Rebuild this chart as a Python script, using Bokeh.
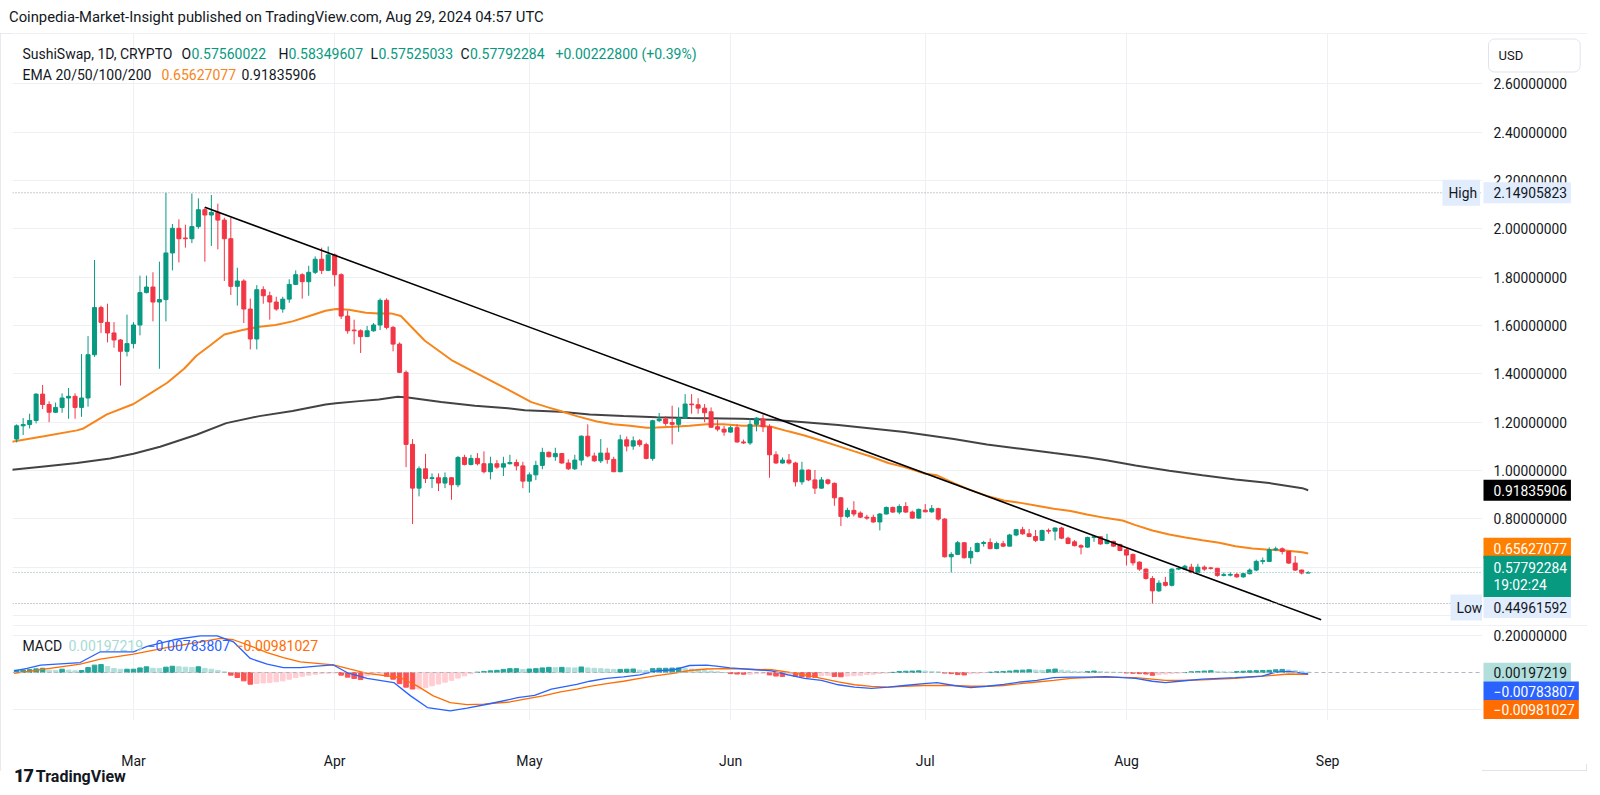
import numpy as np
import pandas as pd
from bokeh.plotting import figure
from bokeh.models import (Range1d, FixedTicker, Label, Div, Span,
                          MonthsTicker, DatetimeTickFormatter, ColumnDataSource)
from bokeh.layouts import column, row
from bokeh.core.properties import value
from bokeh.embed import file_html
from bokeh.resources import INLINE

FIRST_DAY = "2024-02-12"
REF_DAY = "2024-03-01"

opens = [1.130, 1.185, 1.190, 1.207, 1.316, 1.273, 1.241, 1.261, 1.300, 1.307,
         1.261, 1.300, 1.479, 1.674, 1.613, 1.569, 1.540, 1.493, 1.525, 1.602,
         1.736, 1.759, 1.697, 1.707, 1.900, 2.002, 1.962, 1.959, 2.009, 2.079,
         2.057, 2.068, 2.036, 1.959, 1.762, 1.784, 1.668, 1.544, 1.748, 1.723,
         1.697, 1.668, 1.709, 1.770, 1.810, 1.781, 1.820, 1.874, 1.828, 1.892,
         1.810, 1.639, 1.581, 1.578, 1.554, 1.578, 1.602, 1.704, 1.592, 1.523,
         1.406, 1.108, 0.927, 1.007, 0.967, 0.970, 0.948, 0.970, 0.941, 1.054,
         1.025, 1.050, 1.028, 0.995, 1.028, 1.014, 1.028, 1.033, 1.019, 0.956,
         0.982, 1.021, 1.075, 1.057, 1.070, 1.031, 1.007, 1.043, 1.142, 1.060,
         1.040, 1.072, 1.046, 0.995, 1.127, 1.101, 1.123, 1.107, 1.050, 1.206,
         1.213, 1.198, 1.191, 1.217, 1.275, 1.272, 1.258, 1.243, 1.181, 1.171,
         1.159, 1.177, 1.118, 1.114, 1.191, 1.213, 1.181, 1.065, 1.031, 1.043,
         1.031, 0.953, 1.002, 0.961, 0.927, 0.961, 0.947, 0.887, 0.810, 0.835,
         0.824, 0.807, 0.806, 0.787, 0.820, 0.847, 0.828, 0.851, 0.828, 0.803,
         0.836, 0.829, 0.842, 0.799, 0.643, 0.653, 0.701, 0.639, 0.665, 0.698,
         0.702, 0.677, 0.697, 0.687, 0.733, 0.755, 0.738, 0.727, 0.711, 0.752,
         0.749, 0.762, 0.720, 0.705, 0.689, 0.683, 0.723, 0.726, 0.698, 0.707,
         0.694, 0.672, 0.653, 0.621, 0.592, 0.553, 0.502, 0.537, 0.525, 0.592,
         0.592, 0.600, 0.578, 0.600, 0.597, 0.595, 0.566, 0.567, 0.570, 0.560,
         0.573, 0.588, 0.624, 0.624, 0.672, 0.676, 0.665, 0.617, 0.588, 0.57560022]

highs = [1.191, 1.217, 1.235, 1.319, 1.354, 1.286, 1.281, 1.319, 1.341, 1.319,
         1.482, 1.556, 1.871, 1.682, 1.690, 1.614, 1.544, 1.645, 1.614, 1.806,
         1.806, 1.820, 1.864, 2.14905823, 2.020, 2.039, 2.017, 2.146, 2.126, 2.089,
         2.140, 2.104, 2.046, 2.046, 1.839, 1.791, 1.711, 1.767, 1.762, 1.740,
         1.719, 1.719, 1.791, 1.828, 1.816, 1.847, 1.886, 1.922, 1.927, 1.898,
         1.816, 1.661, 1.624, 1.584, 1.598, 1.610, 1.712, 1.712, 1.598, 1.530,
         1.414, 1.130, 1.017, 1.069, 0.988, 0.988, 0.992, 0.973, 1.060, 1.065,
         1.065, 1.072, 1.079, 1.057, 1.043, 1.057, 1.065, 1.046, 1.036, 0.992,
         1.040, 1.094, 1.079, 1.094, 1.072, 1.046, 1.065, 1.145, 1.191, 1.074,
         1.130, 1.094, 1.057, 1.148, 1.141, 1.141, 1.130, 1.115, 1.210, 1.238,
         1.225, 1.268, 1.261, 1.316, 1.316, 1.299, 1.275, 1.261, 1.210, 1.185,
         1.185, 1.191, 1.128, 1.217, 1.220, 1.232, 1.191, 1.079, 1.054, 1.068,
         1.036, 1.036, 1.004, 1.002, 0.973, 0.966, 0.950, 0.890, 0.846, 0.873,
         0.831, 0.817, 0.817, 0.824, 0.851, 0.851, 0.860, 0.869, 0.834, 0.843,
         0.861, 0.857, 0.846, 0.803, 0.662, 0.709, 0.704, 0.683, 0.702, 0.709,
         0.719, 0.706, 0.709, 0.738, 0.758, 0.767, 0.758, 0.754, 0.755, 0.760,
         0.764, 0.767, 0.726, 0.712, 0.695, 0.726, 0.729, 0.729, 0.738, 0.709,
         0.697, 0.682, 0.656, 0.624, 0.595, 0.563, 0.546, 0.560, 0.595, 0.598,
         0.610, 0.614, 0.614, 0.607, 0.601, 0.598, 0.578, 0.580, 0.576, 0.576,
         0.595, 0.631, 0.640, 0.682, 0.685, 0.682, 0.667, 0.646, 0.590, 0.58349607]

lows = [1.116, 1.147, 1.174, 1.195, 1.254, 1.200, 1.238, 1.239, 1.214, 1.214,
        1.222, 1.264, 1.470, 1.569, 1.530, 1.508, 1.351, 1.472, 1.505, 1.559,
        1.733, 1.617, 1.421, 1.617, 1.828, 1.861, 1.922, 1.941, 2.000, 1.864,
        1.929, 1.915, 1.784, 1.726, 1.682, 1.610, 1.501, 1.501, 1.690, 1.624,
        1.661, 1.653, 1.694, 1.767, 1.711, 1.723, 1.813, 1.813, 1.825, 1.762,
        1.627, 1.566, 1.522, 1.486, 1.552, 1.574, 1.581, 1.584, 1.493, 1.403,
        1.014, 0.778, 0.893, 0.948, 0.927, 0.915, 0.927, 0.879, 0.931, 1.021,
        1.021, 1.021, 0.988, 0.963, 1.007, 0.977, 1.025, 1.000, 0.927, 0.908,
        0.960, 1.005, 1.054, 1.040, 1.028, 1.002, 1.002, 1.021, 1.054, 1.036,
        1.031, 1.028, 0.993, 0.993, 1.079, 1.086, 1.098, 1.046, 1.040, 1.201,
        1.185, 1.108, 1.160, 1.214, 1.235, 1.235, 1.200, 1.176, 1.162, 1.144,
        1.156, 1.115, 1.110, 1.106, 1.162, 1.159, 0.970, 1.028, 1.028, 1.025,
        0.934, 0.941, 0.956, 0.903, 0.924, 0.941, 0.854, 0.770, 0.803, 0.810,
        0.803, 0.796, 0.784, 0.752, 0.818, 0.825, 0.819, 0.825, 0.800, 0.800,
        0.827, 0.825, 0.793, 0.640, 0.578, 0.650, 0.636, 0.614, 0.661, 0.685,
        0.674, 0.674, 0.683, 0.686, 0.728, 0.734, 0.724, 0.704, 0.708, 0.738,
        0.711, 0.716, 0.695, 0.686, 0.653, 0.680, 0.705, 0.693, 0.694, 0.684,
        0.666, 0.607, 0.607, 0.585, 0.549, 0.44961592, 0.498, 0.520, 0.520, 0.588,
        0.588, 0.575, 0.575, 0.585, 0.590, 0.560, 0.562, 0.562, 0.556, 0.556,
        0.570, 0.583, 0.612, 0.621, 0.666, 0.653, 0.614, 0.585, 0.570, 0.57525033]

closes = [1.185, 1.190, 1.207, 1.316, 1.273, 1.241, 1.261, 1.300, 1.307, 1.261,
          1.300, 1.479, 1.674, 1.613, 1.569, 1.540, 1.493, 1.525, 1.602, 1.736,
          1.759, 1.697, 1.707, 1.900, 2.002, 1.959, 1.959, 2.009, 2.079, 2.057,
          2.068, 2.036, 1.959, 1.762, 1.784, 1.668, 1.544, 1.748, 1.723, 1.697,
          1.668, 1.709, 1.770, 1.810, 1.781, 1.820, 1.874, 1.828, 1.892, 1.810,
          1.639, 1.578, 1.578, 1.554, 1.578, 1.602, 1.704, 1.592, 1.523, 1.406,
          1.108, 0.927, 1.007, 0.967, 0.970, 0.948, 0.970, 0.941, 1.054, 1.025,
          1.050, 1.028, 0.995, 1.028, 1.014, 1.028, 1.033, 1.019, 0.956, 0.982,
          1.021, 1.075, 1.057, 1.070, 1.031, 1.007, 1.043, 1.142, 1.060, 1.040,
          1.072, 1.046, 0.995, 1.127, 1.101, 1.123, 1.107, 1.050, 1.206, 1.213,
          1.195, 1.191, 1.217, 1.275, 1.272, 1.258, 1.239, 1.179, 1.171, 1.159,
          1.177, 1.118, 1.114, 1.191, 1.217, 1.181, 1.065, 1.031, 1.043, 1.031,
          0.953, 1.002, 0.961, 0.927, 0.961, 0.947, 0.887, 0.810, 0.835, 0.820,
          0.807, 0.803, 0.787, 0.820, 0.847, 0.828, 0.851, 0.828, 0.803, 0.839,
          0.829, 0.842, 0.799, 0.643, 0.653, 0.701, 0.639, 0.665, 0.698, 0.702,
          0.677, 0.698, 0.687, 0.733, 0.755, 0.738, 0.727, 0.711, 0.752, 0.749,
          0.762, 0.720, 0.698, 0.689, 0.683, 0.723, 0.726, 0.696, 0.711, 0.687,
          0.669, 0.650, 0.618, 0.592, 0.553, 0.502, 0.534, 0.525, 0.592, 0.595,
          0.604, 0.578, 0.600, 0.592, 0.595, 0.566, 0.569, 0.570, 0.560, 0.573,
          0.588, 0.624, 0.627, 0.672, 0.676, 0.665, 0.617, 0.588, 0.57560022, 0.57792284]

macd_hist = [0.013, 0.014, 0.016, 0.020, 0.023, 0.013, 0.011, 0.018, 0.013, 0.009,
             0.011, 0.027, 0.040, 0.043, 0.032, 0.022, 0.018, 0.018, 0.018, 0.025,
             0.031, 0.023, 0.022, 0.029, 0.034, 0.031, 0.029, 0.027, 0.031, 0.022,
             0.018, 0.011, 0.004, -0.014, -0.027, -0.045, -0.063, -0.059, -0.056, -0.054,
             -0.050, -0.045, -0.036, -0.027, -0.020, -0.014, -0.009, -0.005, -0.004, -0.002,
             -0.014, -0.025, -0.032, -0.038, -0.018, -0.012, -0.010, -0.020, -0.036, -0.060,
             -0.079, -0.089, -0.089, -0.082, -0.072, -0.062, -0.052, -0.042, -0.030, -0.018,
             -0.006, 0.002, 0.006, 0.009, 0.012, 0.017, 0.021, 0.021, 0.016, 0.019,
             0.021, 0.025, 0.028, 0.026, 0.028, 0.026, 0.025, 0.030, 0.025, 0.023,
             0.021, 0.019, 0.017, 0.017, 0.018, 0.019, 0.013, 0.011, 0.021, 0.023,
             0.023, 0.024, 0.025, 0.021, 0.019, 0.017, 0.011, 0.008, 0.004, 0.000,
             -0.006, -0.008, -0.009, -0.009, -0.006, -0.004, -0.013, -0.019, -0.021, -0.017,
             -0.021, -0.023, -0.025, -0.026, -0.017, -0.015, -0.021, -0.023, -0.019, -0.017,
             -0.015, -0.011, -0.009, -0.005, -0.003, 0.001, 0.006, 0.007, 0.008, 0.009,
             0.008, 0.006, 0.004, -0.003, -0.006, -0.011, -0.013, -0.006, -0.004, -0.001,
             0.002, 0.004, 0.006, 0.008, 0.012, 0.013, 0.015, 0.013, 0.012, 0.015,
             0.019, 0.013, 0.009, 0.006, 0.004, 0.005, 0.008, 0.006, 0.003, 0.002,
             0.001, -0.002, -0.004, -0.006, -0.008, -0.015, -0.011, -0.008, -0.005, -0.003,
             0.000, 0.004, 0.006, 0.008, 0.010, 0.006, 0.004, 0.003, 0.005, 0.007,
             0.009, 0.010, 0.011, 0.012, 0.015, 0.017, 0.014, 0.011, 0.007, 0.00197219]

# line series read at sample points: days relative to 2024-03-01
ema_fast_day = [-19, -13.8, -8.7, -7.7, -4.1, 0, 2.6, 5.2, 7.8, 9.7,
                11.7, 14, 16.8, 19.4, 21.9, 24.5, 27.1, 29.6, 31.2, 33.2,
                35.8, 37.8, 39.7, 41.2, 42.8, 44.9, 49, 52.6, 55.2, 58.8,
                61.3, 63.9, 65.8, 68.3, 71.4, 73.9, 76.5, 79.1, 80.6, 83.2,
                85.7, 88.3, 90.9, 93.8, 96.3, 98.3, 100.9, 103.4, 106, 108.6,
                111.1, 113.7, 116.3, 118.8, 121.8, 123.8, 126.4, 129, 131.5, 134.1,
                136.7, 139.2, 141.8, 144.4, 146.9, 149.9, 152.4, 154.4, 157, 159.6,
                162.1, 164.7, 167.3, 169.8, 172.4, 175, 177.5, 180.1, 181]
ema_fast_val = [1.118, 1.142, 1.166, 1.174, 1.232, 1.275, 1.319, 1.363, 1.421, 1.475,
                1.515, 1.563, 1.581, 1.595, 1.602, 1.617, 1.639, 1.661, 1.668, 1.665,
                1.653, 1.650, 1.650, 1.639, 1.595, 1.537, 1.457, 1.406, 1.370, 1.319,
                1.283, 1.261, 1.246, 1.225, 1.203, 1.191, 1.185, 1.177, 1.178, 1.181,
                1.185, 1.191, 1.191, 1.185, 1.185, 1.181, 1.162, 1.145, 1.123, 1.101,
                1.079, 1.057, 1.031, 1.014, 0.988, 0.980, 0.948, 0.919, 0.895, 0.876,
                0.866, 0.854, 0.842, 0.832, 0.818, 0.803, 0.793, 0.774, 0.752, 0.735,
                0.723, 0.711, 0.701, 0.687, 0.677, 0.672, 0.669, 0.662, 0.65627077]

ema_slow_day = [-19, -13.8, -8.7, -3.6, 0, 4.1, 9.7, 14.3, 19.4, 24.5,
                29.6, 31.2, 34.8, 37.8, 40.7, 42.3, 47.4, 52.6, 57.7, 60.3,
                65.8, 70.3, 75.5, 80.6, 85.7, 93.8, 98.3, 103.4, 108.6, 113.7,
                118.8, 121.8, 126.4, 131.5, 136.7, 141.8, 146.9, 149.9, 154.4, 159.6,
                164.7, 169.8, 175, 180.1, 181]
ema_slow_val = [1.002, 1.017, 1.031, 1.050, 1.069, 1.098, 1.148, 1.196, 1.225, 1.246,
                1.273, 1.278, 1.287, 1.294, 1.305, 1.302, 1.283, 1.268, 1.258, 1.249,
                1.243, 1.232, 1.225, 1.220, 1.217, 1.214, 1.210, 1.200, 1.188, 1.174,
                1.159, 1.148, 1.130, 1.108, 1.090, 1.072, 1.055, 1.042, 1.021, 0.999,
                0.980, 0.963, 0.948, 0.927, 0.91835906]

macd_day = [-18.4, -16.4, -14.3, -8.2, -5.1, 0, 2.1, 6.2, 10.3, 12.9,
            15.4, 18, 20.6, 23.1, 25.7, 28.3, 30.8, 32.9, 36, 40.1,
            42.7, 45.3, 48.8, 51.4, 54.1, 56.7, 59.2, 61.8, 64.4, 68.3,
            70.3, 72.9, 75.5, 78, 80.6, 83.2, 85.7, 88.3, 89.8, 91.9,
            95.8, 98.3, 100.9, 103.4, 106, 108.6, 111.1, 113.7, 116.3, 118.8,
            121.8, 123.8, 126.4, 129, 131.5, 134.1, 136.7, 139.2, 141.8, 144.4,
            146.9, 149.9, 152.4, 154.4, 157, 159, 161.1, 164.7, 169.8, 173.9,
            176, 178, 181]
macd_val = [0.009, 0.022, 0.040, 0.054, 0.112, 0.112, 0.141, 0.177, 0.198, 0.198,
            0.166, 0.076, 0.045, 0.027, 0.027, 0.035, 0.041, 0.000, -0.032, -0.054,
            -0.126, -0.189, -0.207, -0.192, -0.174, -0.155, -0.136, -0.123, -0.089, -0.064,
            -0.047, -0.032, -0.023, -0.013, 0.009, 0.015, 0.038, 0.040, 0.035, 0.025,
            0.015, 0.009, -0.013, -0.032, -0.042, -0.066, -0.079, -0.085, -0.079, -0.070,
            -0.060, -0.055, -0.070, -0.081, -0.074, -0.064, -0.051, -0.042, -0.028, -0.025,
            -0.025, -0.022, -0.028, -0.032, -0.047, -0.055, -0.047, -0.036, -0.028, -0.019,
            0.002, 0.006, -0.00783807]

signal_day = [-18.4, -8.2, -5.1, 0, 5.1, 10.3, 13.4, 15.4, 18, 20.6,
              23.1, 25.7, 30.8, 33.4, 36, 41.1, 43.7, 46.2, 48.8, 51.4,
              54, 58, 60.5, 63.1, 65.8, 68.3, 70.3, 72.9, 75.5, 78,
              80.6, 83.2, 85.7, 88.3, 90.9, 93.5, 98.3, 100.9, 103.4, 106,
              108.6, 111.1, 113.7, 116.3, 118.8, 121.8, 126.4, 129, 131.5, 134.1,
              136.7, 139.2, 141.8, 144.4, 146.9, 149.9, 154.4, 159, 161.1, 164.7,
              169.8, 175, 178, 181]
signal_val = [-0.004, 0.045, 0.072, 0.099, 0.135, 0.166, 0.184, 0.177, 0.144, 0.108,
              0.081, 0.058, 0.041, 0.018, -0.004, -0.027, -0.072, -0.126, -0.162, -0.173,
              -0.171, -0.159, -0.142, -0.126, -0.104, -0.089, -0.075, -0.060, -0.047, -0.032,
              -0.017, -0.004, 0.011, 0.019, 0.021, 0.020, 0.015, 0.002, -0.013, -0.032,
              -0.051, -0.066, -0.075, -0.079, -0.074, -0.070, -0.070, -0.074, -0.074, -0.070,
              -0.060, -0.051, -0.042, -0.032, -0.028, -0.025, -0.028, -0.042, -0.043, -0.040,
              -0.032, -0.017, -0.008, -0.00981027]

trend_day = [11, 183]
trend_price = [2.089, 0.383]

price_ticks = [0.8, 1.0, 1.2, 1.4, 1.6, 1.8, 2.0, 2.2, 2.4, 2.6]
price_grid = [0.4, 0.6, 0.8, 1.0, 1.2, 1.4, 1.6, 1.8, 2.0, 2.2, 2.4, 2.6]
macd_ticks = [0.2]
macd_grid = [-0.2, 0.2]

HIGH, LOW, LAST = 2.14905823, 0.44961592, 0.57792284
CHANGE_TEXT = "+0.00222800 (+0.39%)"
COUNTDOWN = "19:02:24"

for a, b in [(opens, highs), (opens, lows), (opens, closes), (opens, macd_hist),
             (ema_fast_day, ema_fast_val), (ema_slow_day, ema_slow_val),
             (macd_day, macd_val), (signal_day, signal_val)]:
    assert len(a) == len(b)

# ------------------------------------------------------------------
dates = pd.date_range(FIRST_DAY, periods=len(opens), freq="D")
ref = pd.Timestamp(REF_DAY)


def at_days(days):
    return ref + pd.to_timedelta(np.asarray(days, dtype=float), unit="D")


DAY_MS = 86400000
UP, DOWN = "#089981", "#F23645"
TXT = "#131722"
FONT = "Roboto"
GRID = "#eef0f4"
BORDER = "#e0e3eb"
ORANGE_LINE = "#F7851A"
SCALE_W = 105
MAIN_H, MACD_H, AXIS_H = 592, 95, 44
SCALE_FS = "13.8px"

o = np.array(opens)
c = np.array(closes)
candle_colors = [UP if cc >= oo else DOWN for oo, cc in zip(opens, closes)]
src = ColumnDataSource(dict(x=dates, h=highs, l=lows, top=np.maximum(o, c),
                            bot=np.minimum(o, c), color=candle_colors))

x_range = Range1d(start=ref - pd.Timedelta(days=18.64), end=ref + pd.Timedelta(days=207.86))
price_range = Range1d(0.3587, 2.808)
macd_range = Range1d(-0.259, 0.254)

common = dict(x_axis_type="datetime", x_range=x_range, frame_width=1470,
              min_border_left=12, min_border_right=0, min_border_top=0,
              y_axis_location=None, output_backend="svg", toolbar_location=None,
              background_fill_color="white", border_fill_color="white")

p = figure(y_range=price_range, frame_height=MAIN_H, min_border_bottom=0,
           x_axis_location=None, **common)
p.outline_line_color = None
p.xgrid.ticker = MonthsTicker(months=list(range(1, 13)))
p.ygrid.ticker = FixedTicker(ticks=price_grid)
p.grid.grid_line_color = GRID

p.add_layout(Span(location=HIGH, dimension="width", line_color="#9598a1", line_dash="1 2", line_width=1))
p.add_layout(Span(location=LOW, dimension="width", line_color="#9598a1", line_dash="1 2", line_width=1))
p.add_layout(Span(location=LAST, dimension="width", line_color="#7fb8ad", line_dash="1 2", line_width=1))

p.line(at_days(ema_slow_day), ema_slow_val, line_color="#434343", line_width=2)
p.line(at_days(ema_fast_day), ema_fast_val, line_color=ORANGE_LINE, line_width=2)

p.segment(x0="x", y0="l", x1="x", y1="h", line_color="color", line_width=1, source=src)
p.vbar(x="x", width=0.62 * DAY_MS, top="top", bottom="bot", fill_color="color",
       line_color="color", line_width=1, source=src)

p.line(at_days(trend_day), trend_price, line_color="#000000", line_width=1.6)


def put(fig, text, x, y, color, size="14px", bg=None, pad=0, border=None, units="screen", **kw):
    fig.add_layout(Label(x=x, y=y, x_units=units, y_units="data", text=text,
                         text_color=color, text_font=FONT, text_font_size=size,
                         text_baseline="middle", text_align="left",
                         background_fill_color=bg, padding=pad,
                         border_line_color=border, **kw))


R1, R2 = 2.725, 2.638
put(p, "SushiSwap, 1D, CRYPTO", 10, R1, TXT)
for letter, lx, val, vx in [("O", 169, opens[-1], 179), ("H", 266, highs[-1], 276),
                            ("L", 358, lows[-1], 366), ("C", 448, closes[-1], 457.5)]:
    put(p, letter, lx, R1, TXT)
    put(p, f"{val:.8f}", vx, R1, UP)
put(p, CHANGE_TEXT, 543, R1, UP)
put(p, "EMA 20/50/100/200", 10, R2, TXT)
put(p, f"{ema_fast_val[-1]:.8f}", 149, R2, ORANGE_LINE)
put(p, f"{ema_slow_val[-1]:.8f}", 229, R2, TXT)

PALE = "#e1ecfd"
# tag vertical slots (price units) as laid out on the reference's scale
Y_FAST_TAG, Y_LAST_TAG, Y_LOW_TAG = 0.678, 0.5614, 0.433
put(p, "High", 1430, HIGH, TXT, size=SCALE_FS, bg=PALE, pad=(6, 3, 5, 5))
put(p, "Low", 1438, Y_LOW_TAG, TXT, size=SCALE_FS, bg=PALE, pad=(6, 2, 5, 5))

# ------------------------------------------------------------------ price scale
scale_common = dict(x_range=Range1d(0, SCALE_W), frame_width=SCALE_W, min_border_left=0,
                    min_border_right=0, min_border_top=0, x_axis_location=None,
                    y_axis_location=None, output_backend="svg", toolbar_location=None,
                    background_fill_color="white", border_fill_color="white")
ps = figure(y_range=price_range, frame_height=MAIN_H, min_border_bottom=0, **scale_common)
ps.outline_line_color = None
ps.grid.visible = False
ps.text(x=[11] * len(price_ticks), y=price_ticks, text=[f"{t:.8f}" for t in price_ticks],
        text_font=value(FONT), text_font_size=SCALE_FS, text_color=TXT,
        text_baseline="middle", text_align="left")

TAGPAD = (10, 4, 5, 5)
put(ps, "USD", 6, 2.717, TXT, size="13px", pad=(10, 57, 9, 9), border=BORDER,
    units="data", border_radius=6)
put(ps, f"{HIGH:.8f}", 1, HIGH, TXT, size=SCALE_FS, bg=PALE, pad=TAGPAD, units="data")
put(ps, f"{ema_slow_val[-1]:.8f}", 1, ema_slow_val[-1], "#ffffff", size=SCALE_FS, bg="#000000", pad=TAGPAD, units="data")
put(ps, f"{ema_fast_val[-1]:.8f}", 1, Y_FAST_TAG, "#ffffff", size=SCALE_FS, bg="#FF7F00", pad=TAGPAD, units="data")
put(ps, f"{LAST:.8f}\n{COUNTDOWN}", 1, Y_LAST_TAG, "#ffffff", size=SCALE_FS, bg=UP,
    pad=(10, 4, 4, 4), units="data", text_line_height=1.1)
put(ps, f"{LOW:.8f}", 1, Y_LOW_TAG, TXT, size=SCALE_FS, bg=PALE, pad=TAGPAD, units="data")

# ------------------------------------------------------------------ MACD pane
q = figure(y_range=macd_range, frame_height=MACD_H, min_border_bottom=AXIS_H, **common)
q.outline_line_color = None
q.xgrid.ticker = MonthsTicker(months=list(range(1, 13)))
q.ygrid.ticker = FixedTicker(ticks=macd_grid)
q.grid.grid_line_color = GRID
q.xaxis.ticker = MonthsTicker(months=list(range(1, 13)))
q.xaxis.formatter = DatetimeTickFormatter(months="%b", days="%b")
q.xaxis.axis_line_color = None
q.xaxis.major_tick_line_color = None
q.xaxis.minor_tick_line_color = None
q.xaxis.major_label_standoff = 26
q.xaxis.major_label_text_font = FONT
q.xaxis.major_label_text_font_size = "14px"
q.xaxis.major_label_text_color = TXT
q.add_layout(Span(location=macd_range.end, dimension="width", line_color=BORDER, line_width=1))

hist_colors = []
prev = 0.0
for v in macd_hist:
    if v >= 0:
        hist_colors.append("#26A69A" if v >= prev else "#B2DFDB")
    else:
        hist_colors.append("#FF5252" if v < prev else "#FFCDD2")
    prev = v
q.vbar(x=dates, top=macd_hist, bottom=0, width=0.7 * DAY_MS, fill_color=hist_colors,
       line_color=hist_colors)
q.add_layout(Span(location=0, dimension="width", line_color="#b2b5be", line_dash="4 3", line_width=1))
q.line(at_days(signal_day), signal_val, line_color="#FF6D00", line_width=1.3)
q.line(at_days(macd_day), macd_val, line_color="#2962FF", line_width=1.3)

MR = 0.146
put(q, "MACD", 10, MR, TXT)
put(q, f"{macd_hist[-1]:.8f}", 56, MR, "#a8dbd5")
put(q, f"\u2212{abs(macd_val[-1]):.8f}", 135, MR, "#2962FF")
put(q, f"\u2212{abs(signal_val[-1]):.8f}", 223, MR, "#FF6D00")

qs = figure(y_range=macd_range, frame_height=MACD_H, min_border_bottom=AXIS_H, **scale_common)
qs.outline_line_color = None
qs.grid.visible = False
qs.text(x=[11] * len(macd_ticks), y=macd_ticks, text=[f"{t:.8f}" for t in macd_ticks],
        text_font=value(FONT), text_font_size=SCALE_FS, text_color=TXT,
        text_baseline="middle", text_align="left")
qs.add_layout(Span(location=macd_range.end, dimension="width", line_color=BORDER, line_width=1))
MPAD = (10, 4, 4, 4)
Y_MACD_TAG, Y_SIG_TAG = -0.100, -0.200
put(qs, f"{macd_hist[-1]:.8f}", 1, macd_hist[-1], TXT, size=SCALE_FS, bg="#B2DFDB", pad=MPAD, units="data")
put(qs, f"\u2212{abs(macd_val[-1]):.8f}", 1, Y_MACD_TAG, "#ffffff", size=SCALE_FS, bg="#2962FF", pad=MPAD, units="data")
put(qs, f"\u2212{abs(signal_val[-1]):.8f}", 1, Y_SIG_TAG, "#ffffff", size=SCALE_FS, bg="#FF6D00", pad=MPAD, units="data")

# ------------------------------------------------------------------ page
TOTAL_W = 1482 + SCALE_W
title = Div(text="Coinpedia-Market-Insight published on TradingView.com, Aug 29, 2024 04:57 UTC",
            width=TOTAL_W, height=23,
            styles={"font-family": FONT, "font-size": "14.8px", "color": TXT,
                    "padding-left": "4px", "padding-top": "3px", "line-height": "18px"})
footer = Div(text='<span style="font-weight:900;font-size:18px;letter-spacing:-1px">17</span>'
                  '&nbsp;<span style="font-weight:700;font-size:16px">TradingView</span>',
             width=TOTAL_W, height=25,
             styles={"font-family": FONT, "color": TXT, "padding-left": "9px",
                     "line-height": "18px", "position": "relative", "top": "-9px"})

chart = column(row(p, ps, spacing=0), row(q, qs, spacing=0), spacing=0,
               styles={"outline": f"1px solid {BORDER}", "outline-offset": "-1px"})
layout = column(title, chart, footer, spacing=0)
open("out.html", "w").write(file_html(layout, INLINE))
